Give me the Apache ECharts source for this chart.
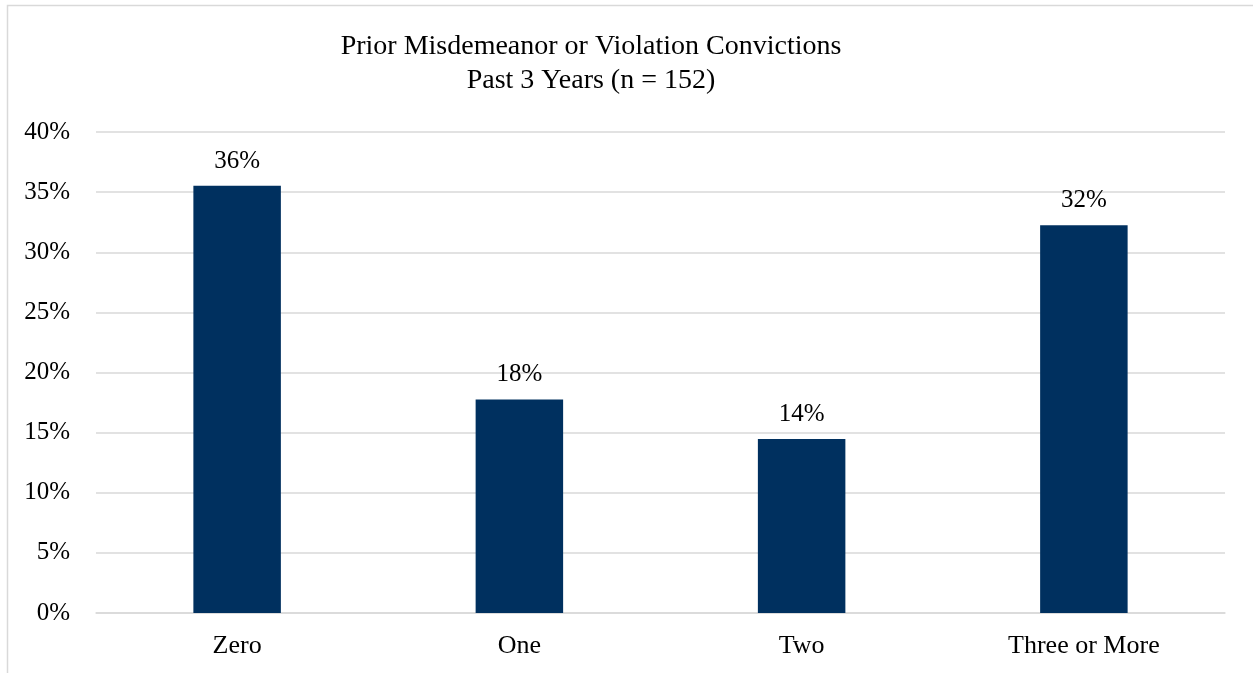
<!DOCTYPE html>
<html>
<head>
<meta charset="utf-8">
<script src="https://cdn.jsdelivr.net/npm/echarts@6/dist/echarts.min.js"></script>
<style>
  html, body { margin: 0; padding: 0; background: #fff; }
  #chart { width: 1253px; height: 673px; }
</style>
</head>
<body>
<div id="chart"></div>
<script>
// 数据
const categories = ['Zero', 'One', 'Two', 'Three or More']
const shares = [35.53, 17.76, 14.47, 32.24]
const yTicks = { min: 0, max: 40, step: 5 }

const myChart = echarts.init(document.getElementById('chart'))
const serif = '"Liberation Serif", "Times New Roman", serif'

const option = {
  backgroundColor: '#fff',
  title: {
    text: 'Prior Misdemeanor or Violation Convictions\nPast 3 Years (n = 152)',
    // 标题中心略偏左，与原图一致
    left: 586,
    top: 25,
    textAlign: 'center',
    textStyle: {
      fontFamily: serif,
      fontWeight: 'normal',
      fontSize: 28,
      lineHeight: 34,
      color: '#000'
    }
  },
  // 外框
  graphic: [{
    type: 'rect',
    shape: { x: 7.5, y: 5.5, width: 1300, height: 720 },
    style: { fill: 'none', stroke: '#d9d9d9', lineWidth: 1.5 },
    silent: true
  }],
  grid: {
    left: 96,
    right: 28,
    top: 132,
    bottom: 60
  },
  xAxis: {
    type: 'category',
    data: categories,
    axisTick: { show: false },
    axisLine: { lineStyle: { color: '#d9d9d9', width: 1.5 } },
    axisLabel: {
      fontFamily: serif,
      fontSize: 26,
      color: '#000',
      margin: 20
    }
  },
  yAxis: {
    type: 'value',
    min: yTicks.min,
    max: yTicks.max,
    interval: yTicks.step,
    axisLine: { show: false },
    axisTick: { show: false },
    splitLine: { lineStyle: { color: '#d9d9d9', width: 1.5 } },
    axisLabel: {
      fontFamily: serif,
      fontSize: 25,
      color: '#000',
      margin: 26,
      formatter: '{value}%'
    }
  },
  series: [
    {
      type: 'bar',
      data: shares,
      barWidth: '31%',
      itemStyle: { color: '#00305F' },
      label: {
        show: true,
        position: 'top',
        distance: 12,
        fontFamily: serif,
        fontSize: 25,
        color: '#000',
        formatter: function (p) { return Math.round(p.value) + '%' }
      }
    }
  ]
}
myChart.setOption(option)
</script>
</body>
</html>
